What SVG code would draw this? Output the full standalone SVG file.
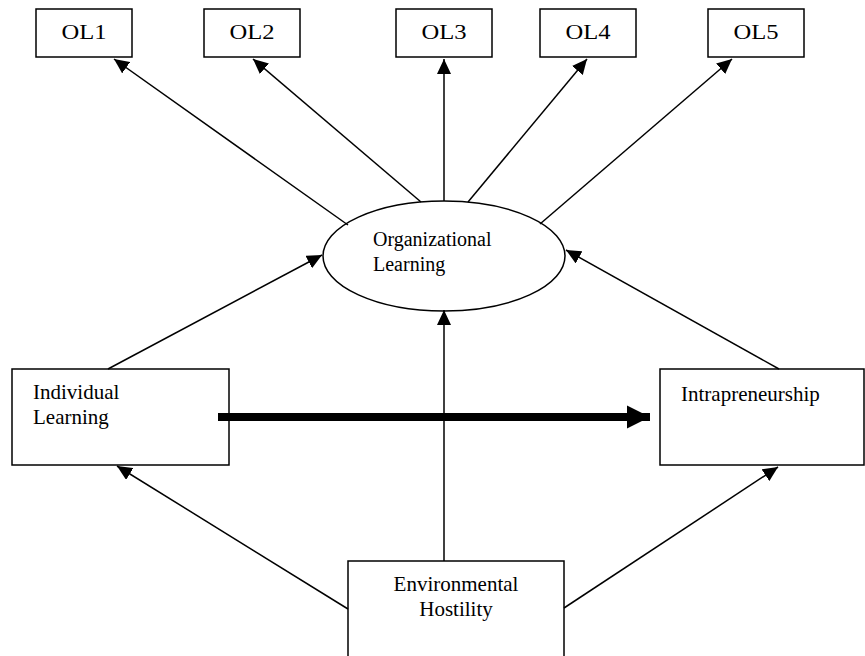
<svg xmlns="http://www.w3.org/2000/svg" width="865" height="656" viewBox="0 0 865 656">
<style>
.box{fill:#fff;stroke:#000;stroke-width:1.5}
.t{font-family:"Liberation Serif","Times New Roman",serif;font-size:21px;fill:#000}
.ol{font-family:"Liberation Serif","Times New Roman",serif;font-size:20px;fill:#000}
.c{stroke:#000;stroke-width:1.5;fill:none;marker-end:url(#ah)}
</style>
<defs>
<marker id="ah" markerUnits="userSpaceOnUse" markerWidth="16" markerHeight="14" refX="15" refY="7" orient="auto">
<path d="M0,0 L15,7 L0,14 Z" fill="#000"/>
</marker>
<marker id="ahb" markerUnits="userSpaceOnUse" markerWidth="24" markerHeight="24" refX="23" refY="12" orient="auto">
<path d="M0,0.5 L23,12 L0,23.5 Z" fill="#000"/>
</marker>
</defs>
<rect width="865" height="656" fill="#fff"/>
<g id="OL1"><rect class="box" x="36" y="9" width="96" height="48"/><text class="ol" x="84" y="39" text-anchor="middle" textLength="45" lengthAdjust="spacingAndGlyphs">OL1</text></g>
<g id="OL2"><rect class="box" x="204" y="9" width="96" height="48"/><text class="ol" x="252" y="39" text-anchor="middle" textLength="45" lengthAdjust="spacingAndGlyphs">OL2</text></g>
<g id="OL3"><rect class="box" x="396" y="9" width="96" height="48"/><text class="ol" x="444" y="39" text-anchor="middle" textLength="45" lengthAdjust="spacingAndGlyphs">OL3</text></g>
<g id="OL4"><rect class="box" x="540" y="9" width="96" height="48"/><text class="ol" x="588" y="39" text-anchor="middle" textLength="45" lengthAdjust="spacingAndGlyphs">OL4</text></g>
<g id="OL5"><rect class="box" x="708" y="9" width="96" height="48"/><text class="ol" x="756" y="39" text-anchor="middle" textLength="45" lengthAdjust="spacingAndGlyphs">OL5</text></g>
<g id="organizational-learning"><ellipse class="box" cx="444" cy="256" rx="121" ry="55"/><text class="ol" x="373" y="246">Organizational</text><text class="ol" x="373" y="271">Learning</text></g>
<g id="individual-learning"><rect class="box" x="12" y="369" width="217" height="96"/><text class="t" x="33" y="399">Individual</text><text class="t" x="33" y="424">Learning</text></g>
<g id="intrapreneurship"><rect class="box" x="660" y="369" width="204" height="96"/><text class="t" x="681" y="401">Intrapreneurship</text></g>
<g id="environmental-hostility"><rect class="box" x="348" y="561" width="216" height="110"/><text class="t" x="456" y="591" text-anchor="middle">Environmental</text><text class="t" x="456" y="616" text-anchor="middle">Hostility</text></g>
<g id="connectors">
<line class="c" x1="348" y1="225" x2="114" y2="59"/>
<line class="c" x1="421" y1="202" x2="253" y2="59"/>
<line class="c" x1="444" y1="201" x2="444" y2="59"/>
<line class="c" x1="468" y1="202" x2="587" y2="59"/>
<line class="c" x1="540" y1="224" x2="732" y2="59"/>
<line class="c" x1="108" y1="369" x2="322" y2="255"/>
<line class="c" x1="779" y1="369" x2="566" y2="250"/>
<line class="c" x1="444" y1="561" x2="444" y2="310"/>
<line class="c" x1="348" y1="609" x2="117" y2="466"/>
<line class="c" x1="564" y1="608" x2="778" y2="467"/>
<line x1="218" y1="417" x2="650" y2="417" stroke="#000" stroke-width="8" marker-end="url(#ahb)"/>
</g>
</svg>
